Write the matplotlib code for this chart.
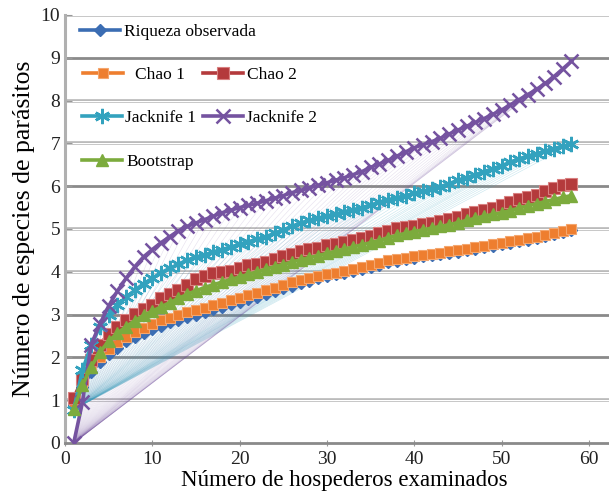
import matplotlib
matplotlib.use('Agg')
import matplotlib.pyplot as plt

# numero de hospederos examinados
hosts = list(range(1, 59))

# riqueza observada
riqueza = [0.88, 1.30, 1.65, 1.90, 2.08, 2.22, 2.38, 2.48, 2.58, 2.66,
           2.74, 2.82, 2.88, 2.95, 3.00, 3.06, 3.12, 3.18, 3.24, 3.30,
           3.36, 3.42, 3.49, 3.55, 3.61, 3.67, 3.73, 3.79, 3.85, 3.90,
           3.94, 3.98, 4.02, 4.06, 4.11, 4.17, 4.23, 4.26, 4.30, 4.33,
           4.36, 4.39, 4.42, 4.45, 4.47, 4.51, 4.54, 4.58, 4.61, 4.64,
           4.68, 4.71, 4.75, 4.79, 4.84, 4.88, 4.93, 4.97]
# Chao 1
chao1 = [0.93, 1.40, 1.75, 2.00, 2.20, 2.35, 2.48, 2.60, 2.68, 2.78,
         2.87, 2.93, 3.00, 3.05, 3.10, 3.16, 3.22, 3.27, 3.33, 3.39,
         3.45, 3.51, 3.57, 3.63, 3.69, 3.75, 3.80, 3.85, 3.90, 3.94,
         3.98, 4.02, 4.06, 4.10, 4.15, 4.21, 4.27, 4.30, 4.33, 4.36,
         4.39, 4.42, 4.45, 4.48, 4.50, 4.54, 4.57, 4.61, 4.64, 4.67,
         4.71, 4.74, 4.78, 4.82, 4.87, 4.91, 4.96, 5.00]
# Chao 2
chao2 = [1.05, 1.50, 1.95, 2.30, 2.55, 2.70, 2.88, 3.02, 3.12, 3.22,
         3.38, 3.48, 3.58, 3.70, 3.82, 3.90, 3.96, 4.00, 4.02, 4.08,
         4.15, 4.18, 4.24, 4.30, 4.36, 4.42, 4.48, 4.53, 4.56, 4.62,
         4.66, 4.70, 4.75, 4.80, 4.84, 4.90, 4.96, 5.02, 5.05, 5.08,
         5.12, 5.15, 5.18, 5.24, 5.28, 5.34, 5.40, 5.44, 5.48, 5.55,
         5.62, 5.70, 5.74, 5.80, 5.88, 5.96, 6.02, 6.05]
# Jacknife 1
jack1 = [0.78, 1.70, 2.28, 2.72, 3.00, 3.22, 3.40, 3.57, 3.72, 3.85,
         3.98, 4.08, 4.18, 4.27, 4.34, 4.40, 4.46, 4.52, 4.58, 4.64,
         4.70, 4.76, 4.82, 4.90, 4.98, 5.06, 5.14, 5.20, 5.25, 5.30,
         5.35, 5.40, 5.45, 5.50, 5.56, 5.62, 5.68, 5.73, 5.78, 5.83,
         5.88, 5.93, 5.99, 6.06, 6.14, 6.20, 6.27, 6.34, 6.41, 6.48,
         6.56, 6.64, 6.70, 6.76, 6.82, 6.88, 6.93, 6.98]
# Jacknife 2
jack2 = [0.00, 0.95, 2.30, 2.78, 3.20, 3.55, 3.85, 4.12, 4.35, 4.52,
         4.68, 4.82, 4.96, 5.06, 5.14, 5.22, 5.30, 5.38, 5.44, 5.50,
         5.55, 5.60, 5.66, 5.72, 5.78, 5.85, 5.90, 5.96, 6.02, 6.08,
         6.14, 6.20, 6.27, 6.34, 6.44, 6.52, 6.60, 6.70, 6.80, 6.90,
         6.97, 7.04, 7.12, 7.22, 7.31, 7.40, 7.49, 7.58, 7.68, 7.78,
         7.90, 8.02, 8.14, 8.26, 8.40, 8.56, 8.74, 8.92]
# Bootstrap
boot = [0.80, 1.35, 1.78, 2.12, 2.38, 2.56, 2.72, 2.86, 2.98, 3.08,
        3.18, 3.28, 3.38, 3.47, 3.56, 3.63, 3.70, 3.76, 3.82, 3.88,
        3.94, 4.00, 4.06, 4.12, 4.17, 4.23, 4.28, 4.33, 4.38, 4.43,
        4.48, 4.53, 4.58, 4.63, 4.68, 4.73, 4.80, 4.85, 4.90, 4.94,
        4.98, 5.02, 5.06, 5.10, 5.15, 5.20, 5.25, 5.30, 5.34, 5.38,
        5.43, 5.49, 5.54, 5.59, 5.64, 5.69, 5.74, 5.78]

y_ticks = list(range(0, 11))
x_ticks = [0, 10, 20, 30, 40, 50, 60]

plt.rcParams['font.family'] = ['Liberation Serif', 'DejaVu Serif']

c_blue = '#3b6db3'
c_orange = '#ee7e2f'
c_red = '#b43a3c'
c_teal = '#33a2be'
c_purple = '#7553a0'
c_green = '#7cab3d'

fig = plt.figure(figsize=(6.09, 4.96), dpi=100)
ax = fig.add_axes([0.1067, 0.1069, 0.8933, 0.8629])

# lineas de cuadricula (oscuras y claras)
dark = [0, 2, 3, 6, 9]
for yv in y_ticks[1:]:
    if yv in dark:
        ax.axhline(yv, color='#8a8a8a', lw=2.0, zorder=0)
    else:
        ax.axhline(yv, color='#b8b8b8', lw=2.6, zorder=0)
        ax.axhline(yv, color='white', lw=0.8, zorder=0)

# abanico de lineas finas (efecto del grafico original)
for xi, yi in zip(hosts, jack1):
    ax.plot([hosts[0], xi], [jack1[0], yi], color=c_teal, lw=0.4, alpha=0.28, zorder=1)
for xi, yi in zip(hosts, jack2):
    ax.plot([hosts[0], xi], [jack2[0], yi], color=c_purple, lw=0.4, alpha=0.18, zorder=1)

# series
h_riq, = ax.plot(hosts, riqueza, color=c_blue, lw=2.6, marker='D', ms=6, zorder=3)
h_c1, = ax.plot(hosts, chao1, color=c_orange, lw=2.6, marker='s', ms=7.5,
                mfc=c_orange, mec='#f4a66e', mew=0.8, zorder=4)
h_c2, = ax.plot(hosts, chao2, color=c_red, lw=2.6, marker='s', ms=8,
                mfc=c_red, mec='#d98080', mew=0.8, zorder=4)
h_j1, = ax.plot(hosts, jack1, color=c_teal, lw=2.6, marker=(6, 2, 0), ms=11, mew=1.8, zorder=5)
h_j2, = ax.plot(hosts, jack2, color=c_purple, lw=2.6, marker='x', ms=10, mew=1.8, zorder=5)
h_bo, = ax.plot(hosts, boot, color=c_green, lw=2.6, marker='^', ms=9, zorder=5)

# ejes
ax.set_xlim(0, 62.3)
ax.set_ylim(0, 10)
ax.set_xticks(x_ticks)
ax.set_yticks(y_ticks)
ax.tick_params(axis='both', labelsize=14, colors='#222222')
ax.tick_params(axis='x', length=4, color='#999999', direction='inout')
ax.tick_params(axis='y', length=5, color='#999999', direction='in')
for s in ['top', 'right']:
    ax.spines[s].set_visible(False)
ax.spines['left'].set_color('#b0b0b0')
ax.spines['left'].set_linewidth(2.2)
ax.spines['bottom'].set_color('#8a8a8a')
ax.spines['bottom'].set_linewidth(2.0)

ax.set_xlabel('Número de hospederos examinados', fontsize=16.5)
ax.set_ylabel('Número de especies de parásitos', fontsize=18.5)
ax.xaxis.set_label_coords((344 - 65) / 544, -0.062)
ax.yaxis.set_label_coords(-0.055, 0.5)

# leyenda: una entrada por posicion (px del original)
entries = [(h_riq, 'Riqueza observada', 80, 32, 0.25),
           (h_c1, 'Chao 1', 83, 75, 0.7),
           (h_c2, 'Chao 2', 203, 75, 0.25),
           (h_j1, 'Jacknife 1', 82, 118, 0.15),
           (h_j2, 'Jacknife 2', 203, 118, 0.15),
           (h_bo, 'Bootstrap', 82, 162, 0.25)]
for h, lab, px, py, pad in entries:
    leg = ax.legend([h], [lab], loc='center left',
                    bbox_to_anchor=((px - 65) / 544, (443 - py) / 428),
                    frameon=False, fontsize=12.5, handlelength=2.3,
                    handletextpad=pad, borderpad=0, borderaxespad=0)
    ax.add_artist(leg)
ax.legend_ = None

plt.savefig('out.png', dpi=100)
